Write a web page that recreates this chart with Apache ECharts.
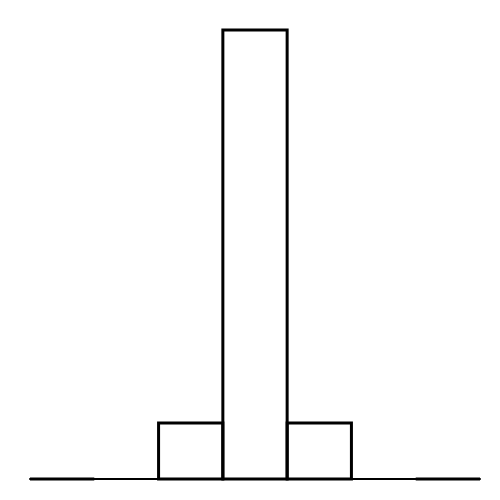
<!DOCTYPE html>
<html><head><meta charset="utf-8">
<script src="https://cdn.jsdelivr.net/npm/echarts@6/dist/echarts.min.js"></script>
<style>html,body{margin:0;padding:0;background:#fff}#c{width:500px;height:500px}</style>
</head><body><div id="c"></div>
<script>
const categories = ['b1','b2','b3','b4','b5','b6','b7'];
const values = [0, 0, 0.1, 0.8, 0.1, 0, 0];
const outerBins = [0, 6];
const chart = echarts.init(document.getElementById('c'));
chart.setOption({
  animation: false,
  grid: {left: 30, right: 20, top: 30, bottom: 21},
  xAxis: {type: 'category', data: categories, axisLine: {show: true, lineStyle: {color: '#000', width: 2}}, axisTick: {show: false}, axisLabel: {show: false}},
  yAxis: {type: 'value', min: 0, max: 0.8, show: false, splitLine: {show: false}},
  series: [{
    type: 'custom',
    data: values.map((v, i) => [i, v]),
    renderItem: function (params, api) {
      const i = api.value(0), v = api.value(1);
      if (v === 0 && !outerBins.includes(i)) return null;
      const w = api.size([1, 0])[0];
      const top = api.coord([i, v]);
      const base = api.coord([i, 0]);
      return {
        type: 'rect',
        shape: {x: top[0] - w / 2, y: top[1], width: w, height: base[1] - top[1]},
        style: {fill: 'none', stroke: '#000', lineWidth: 3}
      };
    },
    z: 3
  }]
});
</script></body></html>
